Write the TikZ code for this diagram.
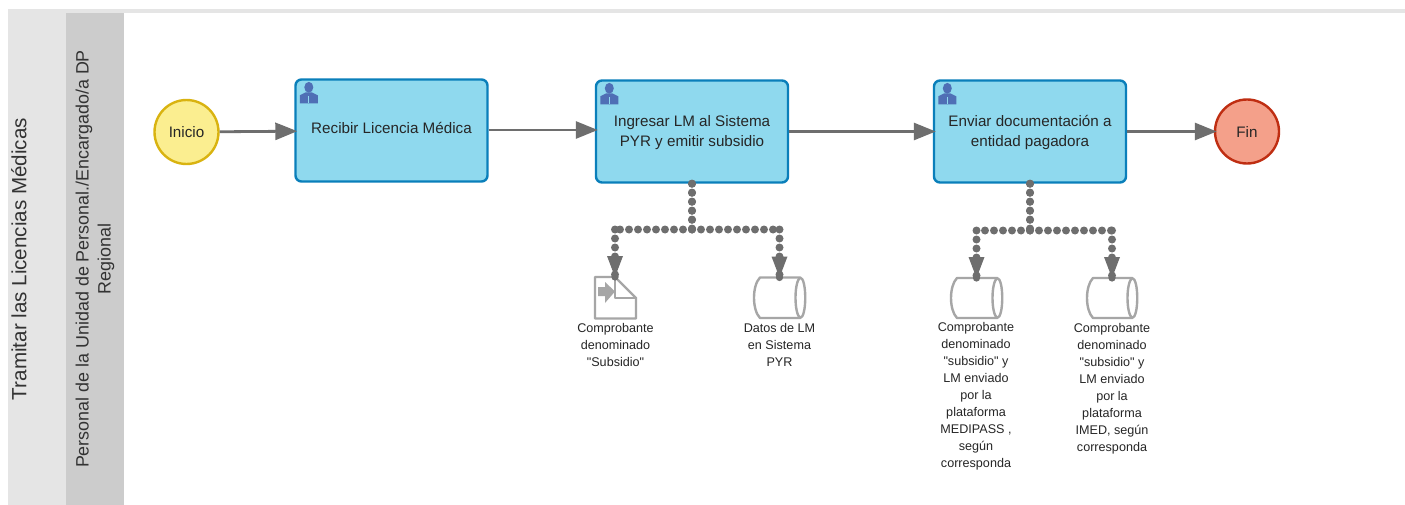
\documentclass[tikz,border=0pt]{standalone}
\usepackage{fontspec}
\setmainfont{Liberation Sans}
\newfontfamily\plainsans{Liberation Sans}
\usetikzlibrary{arrows.meta}
\definecolor{taskfill}{HTML}{8FD9EE}
\definecolor{taskline}{HTML}{0A7FBA}
\definecolor{iconblue}{HTML}{4F6FB5}
\definecolor{flowgray}{HTML}{6E6E6E}
\definecolor{objgray}{HTML}{A6A6A6}
\definecolor{startline}{HTML}{D9B310}
\definecolor{startfill}{HTML}{FBEE90}
\definecolor{endline}{HTML}{BF2E12}
\definecolor{endfill}{HTML}{F4A08A}
\tikzset{
  x=1pt,y=-1pt,
  taskbox/.style={draw=taskline,fill=taskfill,line width=2.4pt,rounded corners=6pt,minimum width=192pt,minimum height=102pt,inner sep=0pt,align=center,font=\fontsize{15.2}{20}\selectfont,text=black!85},
  evstart/.style={circle,draw=startline,fill=startfill,line width=2.4pt,minimum size=64pt,inner sep=0pt,font=\fontsize{15.2}{17}\selectfont,text=black!85},
  evend/.style={circle,draw=endline,fill=endfill,line width=2.4pt,minimum size=64pt,inner sep=0pt,font=\fontsize{15.2}{17}\selectfont,text=black!85},
  flow/.style={draw=flowgray,line width=2.8pt,-{Triangle[length=22pt,width=17pt]},shorten >=-3pt},
  assocline/.style={draw=flowgray,line width=8pt,line cap=round,dash pattern=on 0pt off 9pt},
  assochead/.style={fill=flowgray},
  objlabel/.style={align=center,font=\plainsans\fontsize{12.6}{17}\selectfont,text=black!85,anchor=north,inner sep=0pt},
  objshape/.style={draw=objgray,line width=2.4pt,line join=round,fill=white},
  lanetext/.style={rotate=90,align=center,text=black!80}
}
\newcommand{\usericon}[1]{%
  \fill[iconblue] ([xshift=14.5pt,yshift=-9pt]#1.north west) ellipse (4.5pt and 5.4pt);
  \fill[iconblue] ([xshift=11.5pt,yshift=-14pt]#1.north west) -- ([xshift=17.5pt,yshift=-14pt]#1.north west)
     -- ([xshift=23.5pt,yshift=-17pt]#1.north west) -- ([xshift=23.5pt,yshift=-25pt]#1.north west)
     -- ([xshift=5.5pt,yshift=-25pt]#1.north west) -- ([xshift=5.5pt,yshift=-17pt]#1.north west) -- cycle;
  \draw[taskfill,line width=0.8pt] ([xshift=14.5pt,yshift=-18pt]#1.north west) -- ([xshift=14.5pt,yshift=-25pt]#1.north west);
}
\newcommand{\cyl}[5]{% left, right, top, bottom, name
  \draw[objshape] (#1+6,#3) -- (#2-5,#3) .. controls (#2+2,#3) and (#2+2,#4) .. (#2-5,#4)
     -- (#1+6,#4) .. controls (#1-2,#4-8) and (#1-2,#3+8) .. (#1+6,#3) -- cycle;
  \draw[objshape,fill=none] (#2-5,#3) .. controls (#2-11,#3+5) and (#2-11,#4-5) .. (#2-5,#4);
  \coordinate (#5) at ({(#1+#2)/2},#3);
}
\begin{document}
\begin{tikzpicture}
\useasboundingbox (0,0) rectangle (1405,505);
\fill[white] (0,0) rectangle (1405,505);
\fill[black!10] (8,9) rectangle (1405,13);
\fill[black!10] (8,9) rectangle (66,505);
\fill[black!20] (66,13) rectangle (124,505);
\node[lanetext,font=\fontsize{20.6}{23}\selectfont] (pool) at (19,259) {Tramitar las Licencias Médicas};
\node[lanetext,font=\fontsize{17.9}{22}\selectfont] (lane) at (95,259) {Personal de la Unidad de Personal./Encargado/a DP\\Regional};

\node[evstart] (ini) at (186.5,132) {Inicio};
\node[taskbox] (t1) at (391.5,130.5) {\rule[-6pt]{0pt}{6pt}Recibir Licencia Médica};
\node[taskbox] (t2) at (692,131.5) {\rule{0pt}{14pt}Ingresar LM al Sistema\\PYR y emitir subsidio};
\node[taskbox] (t3) at (1030,131.5) {\rule{0pt}{14pt}Enviar documentación a\\entidad pagadora};
\node[evend] (fin) at (1247,131.5) {Fin};
\usericon{t1}\usericon{t2}\usericon{t3}

\draw[flow] (ini) -- (t1);
\draw[flow] (t1.east|-0,130) -- (t2.west|-0,130);
\draw[flow] (t2) -- (t3);
\draw[flow] (t3) -- (fin);

% document object
\draw[objshape] (595,277) -- (615,277) -- (636,298) -- (636,318.5) -- (595,318.5) -- cycle;
\draw[objshape,fill=none] (615,277) -- (615,298) -- (636,298);
\fill[objgray] (598,287) -- (605,287) -- (605,282) -- (615,291.5) -- (605,303) -- (605,296) -- (598,296) -- cycle;
\coordinate (doc) at (615,277);
\cyl{754}{805}{277.5}{318}{c1}
\cyl{951}{1002}{278}{318}{c2}
\cyl{1087}{1137}{278}{318}{c3}

% associations
\coordinate (j1) at (692,229.5);
\coordinate (j2) at (1030,230.5);
\foreach \src/\jn/\tgt in {t2/j1/doc,t2/j1/c1,t3/j2/c2,t3/j2/c3}{
  \path[assocline] (\src.south) -- (\src.south|-\jn);
  \path[assocline] (\jn) -- (\jn-|\tgt);
  \path[assocline] (\jn-|\tgt) -- (\tgt);
  \path[assochead] ([xshift=-8pt,yshift=21pt]\tgt) -- ([xshift=8pt,yshift=21pt]\tgt) -- (\tgt) -- cycle;
  \fill[flowgray] (\tgt) circle (3.6pt);
}
\node[objlabel] (l1) at (615.5,323) {Comprobante\\denominado\\"Subsidio"};
\node[objlabel] (l2) at (779.5,323) {Datos de LM\\en Sistema\\PYR};
\node[objlabel] (l3) at (976,322) {Comprobante\\denominado\\"subsidio" y\\LM enviado\\por la\\plataforma\\MEDIPASS ,\\según\\corresponda};
\node[objlabel] (l4) at (1112,323) {Comprobante\\denominado\\"subsidio" y\\LM enviado\\por la\\plataforma\\IMED, según\\corresponda};
\end{tikzpicture}
\end{document}
